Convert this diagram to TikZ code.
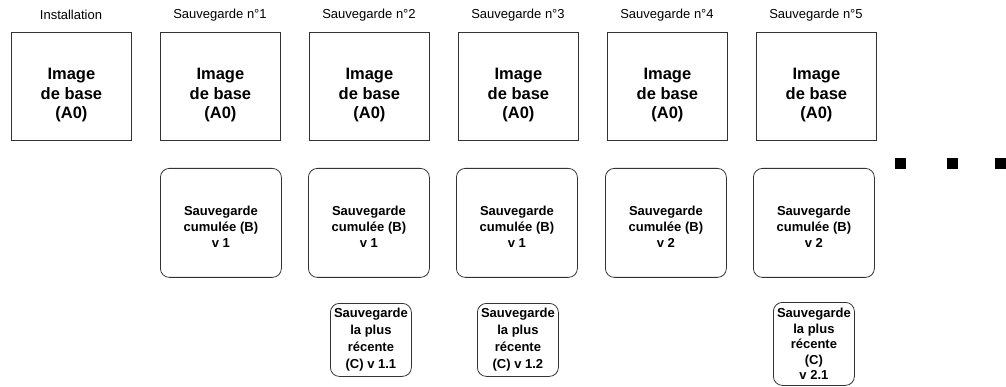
\documentclass[tikz,border=0pt]{standalone}
\usepackage{fontspec}
\setmainfont{Liberation Sans}
\begin{document}
\begin{tikzpicture}[x=1pt,y=-1pt,
  topbox/.style={draw=black!80, line width=0.8pt, anchor=north west, minimum width=120pt, minimum height=108pt, inner sep=0pt},
  toptext/.style={align=center, inner sep=0pt, font=\fontsize{16.5}{19.5}\selectfont\bfseries},
  midbox/.style={draw=black!80, line width=0.8pt, rounded corners=9pt, anchor=north west, minimum width=121pt, minimum height=109pt, inner sep=0pt},
  midtext/.style={align=center, inner sep=0pt, font=\fontsize{13}{16}\selectfont\bfseries},
  lowbox/.style={draw=black!80, line width=0.8pt, rounded corners=9pt, anchor=north west, minimum width=81pt, inner sep=0pt, align=center, font=\fontsize{13}{17}\selectfont\bfseries},
  caption/.style={anchor=center, font=\fontsize{13}{15}\selectfont},
  dot/.style={fill=black, draw=none, minimum size=11pt, inner sep=0pt, anchor=north west}]
\useasboundingbox (0,0) rectangle (1006,387);
\fill[white] (0,0) rectangle (1006,387);
% top boxes
\foreach \i/\x in {1/11,2/160,3/309,4/458,5/607,6/756}{
  \node[topbox] (t\i) at (\x,32) {};
  \node[toptext, yshift=-9pt] (tt\i) at (t\i.center) {Image\\de base\\(A0)};
}
\node[caption] (c1) at (71,15) {Installation};
\node[caption] (c2) at (220,15) {Sauvegarde n°1};
\node[caption] (c3) at (369,15) {Sauvegarde n°2};
\node[caption] (c4) at (518,15) {Sauvegarde n°3};
\node[caption] (c5) at (667,15) {Sauvegarde n°4};
\node[caption] (c6) at (816,15) {Sauvegarde n°5};
% middle boxes
\foreach \i/\x/\v in {2/160/1,3/308/1,4/456/1,5/605/2,6/753/2}{
  \node[midbox] (m\i) at (\x,168) {};
  \node[midtext, yshift=-4pt] (mt\i) at (m\i.center) {Sauvegarde\\cumulée (B)\\v \v};
}
% bottom boxes
\node[lowbox, minimum height=73pt] (b3) at (330,303) {Sauvegarde\\la plus\\récente\\(C) v 1.1};
\node[lowbox, minimum height=73pt] (b4) at (477,303) {Sauvegarde\\la plus\\récente\\(C) v 1.2};
\node[lowbox, minimum height=83pt, font=\fontsize{13}{15.5}\selectfont\bfseries] (b6) at (773,302) {Sauvegarde\\la plus\\récente\\(C)\\v 2.1};
% dots
\node[dot] (d1) at (895,158) {};
\node[dot] (d2) at (947,158) {};
\node[dot] (d3) at (995,158) {};
\end{tikzpicture}
\end{document}
